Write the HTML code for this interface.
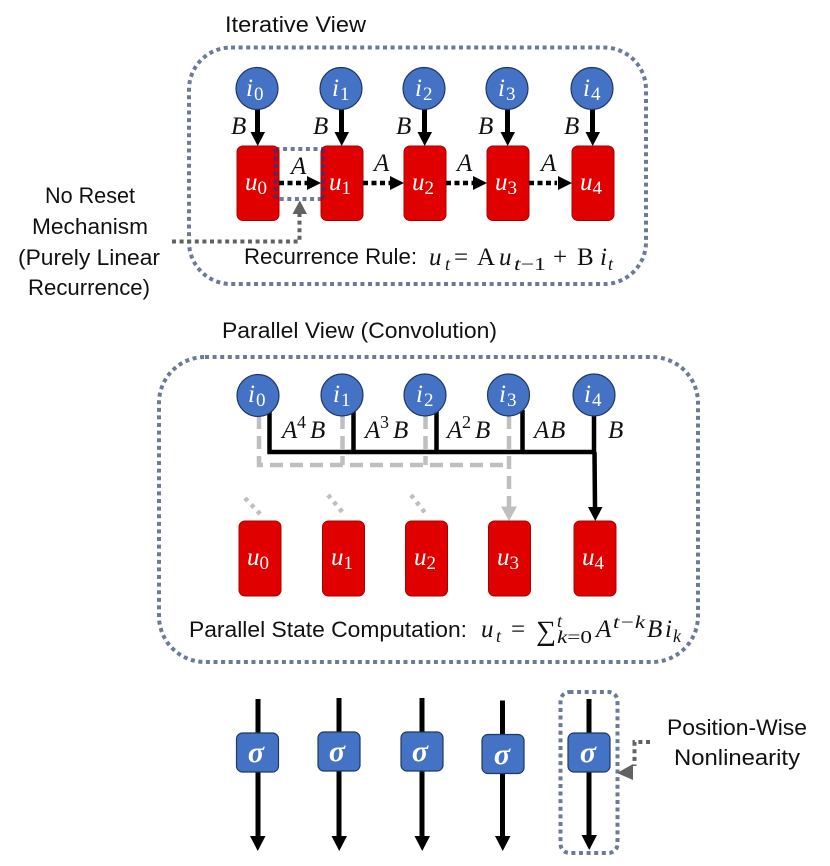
<!DOCTYPE html>
<html><head><meta charset="utf-8">
<style>
html,body{margin:0;padding:0;background:#fff}
svg{display:block}
.s{font-family:"Liberation Sans",sans-serif;font-size:22px;fill:#111}
.m{font-family:"Liberation Serif",serif;font-style:italic;font-size:25px;fill:#111}
.mr{font-family:"Liberation Serif",serif;font-size:25px;fill:#111}
.sb{font-family:"Liberation Serif",serif;font-style:italic;font-size:18px;fill:#111}
.sb tspan{font-style:normal}
.w{font-family:"Liberation Serif",serif;font-style:italic;font-size:25px;fill:#fff}
.w tspan.b{font-size:19px;font-style:normal}
.sig{font-family:"Liberation Serif",serif;font-style:italic;font-weight:bold;font-size:30px;fill:#fff;text-anchor:middle}
.c{fill:#4472c4;stroke:#1f3864;stroke-width:1.2}
.r{fill:#e00000;stroke:#a80000;stroke-width:1}
.d{fill:none;stroke:#6b7a96;stroke-width:4;stroke-dasharray:4 3.6}
</style></head><body>
<svg width="830" height="866" viewBox="0 0 830 866" xmlns="http://www.w3.org/2000/svg">
<text class="s" x="225" y="32" textLength="141" lengthAdjust="spacingAndGlyphs">Iterative View</text>
<rect class="d" x="189" y="47.5" width="457" height="236.5" rx="42"/>
<rect class="d" x="275.500" y="149" width="47.500" height="50"/>

<!-- top arrows B -->
<g fill="#000" stroke="none">
<rect x="255" y="109" width="5" height="24"/><path d="M250.500 132h14.500l-7.300 14z"/>
<rect x="339" y="109" width="5" height="24"/><path d="M334.500 132h14.500l-7.300 14z"/>
<rect x="422" y="109" width="5" height="24"/><path d="M417.500 132h14.500l-7.300 14z"/>
<rect x="505" y="109" width="5" height="24"/><path d="M500.500 132h14.500l-7.300 14z"/>
<rect x="590" y="109" width="5" height="24"/><path d="M585.500 132h14.500l-7.300 14z"/>
</g>

<circle class="c" cx="257" cy="88.500" r="21"/><circle class="c" cx="341" cy="88.500" r="21"/><circle class="c" cx="424" cy="88.500" r="21"/><circle class="c" cx="507" cy="88.500" r="21"/><circle class="c" cx="592" cy="88.500" r="21"/>
<text class="w" x="246" y="96">i<tspan class="b" dy="4" dx="1">0</tspan></text>
<text class="w" x="332" y="96">i<tspan class="b" dy="4" dx="1">1</tspan></text>
<text class="w" x="415" y="96">i<tspan class="b" dy="4" dx="1">2</tspan></text>
<text class="w" x="498" y="96">i<tspan class="b" dy="4" dx="1">3</tspan></text>
<text class="w" x="583" y="96">i<tspan class="b" dy="4" dx="1">4</tspan></text>
<text class="m" x="231" y="134">B</text><text class="m" x="313" y="134">B</text><text class="m" x="396" y="134">B</text><text class="m" x="478" y="134">B</text><text class="m" x="564" y="134">B</text>

<rect class="r" x="237" y="146" width="42" height="74.500" rx="6"/>
<rect class="r" x="321" y="146" width="42" height="74.500" rx="6"/>
<rect class="r" x="404" y="146" width="42" height="74.500" rx="6"/>
<rect class="r" x="487" y="146" width="42" height="74.500" rx="6"/>
<rect class="r" x="572" y="146" width="42" height="74.500" rx="6"/>
<text class="w" x="245" y="190">u<tspan class="b" dy="4">0</tspan></text>
<text class="w" x="329" y="190">u<tspan class="b" dy="4">1</tspan></text>
<text class="w" x="412" y="190">u<tspan class="b" dy="4">2</tspan></text>
<text class="w" x="495" y="190">u<tspan class="b" dy="4">3</tspan></text>
<text class="w" x="580" y="190">u<tspan class="b" dy="4">4</tspan></text>

<!-- overlay on red -->
<path d="M275.500 149v50M323 149v50" fill="none" stroke="#4a2a6a" stroke-width="4" stroke-dasharray="4 3.600" opacity=".85"/>

<!-- dotted A arrows -->
<g stroke="#000" stroke-width="4.500" stroke-dasharray="5 3.500" fill="none">
<path d="M279 183h28"/><path d="M363 183h28"/><path d="M446 183h28"/><path d="M529 183h28"/>
</g>
<g fill="#000">
<path d="M307 176v14l14-7z"/><path d="M390 176v14l14-7z"/><path d="M473 176v14l14-7z"/><path d="M558 176v14l14-7z"/>
</g>
<text class="m" x="291" y="174">A</text><text class="m" x="374" y="171">A</text><text class="m" x="457" y="171">A</text><text class="m" x="541" y="171">A</text>

<!-- No reset -->
<text class="s" x="45" y="203" textLength="90" lengthAdjust="spacingAndGlyphs">No Reset</text>
<text class="s" x="32" y="234" textLength="116" lengthAdjust="spacingAndGlyphs">Mechanism</text>
<text class="s" x="18" y="265" textLength="142" lengthAdjust="spacingAndGlyphs">(Purely Linear</text>
<text class="s" x="28" y="295" textLength="122" lengthAdjust="spacingAndGlyphs">Recurrence)</text>
<path d="M172 241.500H299.500V214" fill="none" stroke="#626262" stroke-width="4" stroke-dasharray="4 3.600"/>
<path d="M292.500 214h14.500l-7.250-13.500z" fill="#626262"/>

<text class="s" x="244" y="264" textLength="173" lengthAdjust="spacingAndGlyphs">Recurrence Rule:</text>
<text class="m" x="429" y="265">u</text><text class="sb" x="445" y="270">t</text>
<text class="mr" x="454" y="265">=</text><text class="mr" x="477" y="265">A</text>
<text class="m" x="499" y="265">u</text><text class="sb" x="514" y="270" textLength="32" lengthAdjust="spacingAndGlyphs">t<tspan>−1</tspan></text>
<text class="mr" x="553" y="265">+</text><text class="mr" x="577" y="265">B</text>
<text class="m" x="600" y="265">i</text><text class="sb" x="608" y="270">t</text>

<!-- parallel -->
<text class="s" x="222" y="338" textLength="275" lengthAdjust="spacingAndGlyphs">Parallel View (Convolution)</text>
<rect class="d" x="159" y="357" width="539" height="305" rx="46"/>

<!-- grey dashed -->
<g fill="none" stroke="#bfbfbf" stroke-width="4.500">
<path d="M259 416V465H509" stroke-dasharray="13 7"/>
<path d="M342.500 416V465" stroke-dasharray="13 7"/>
<path d="M425.500 416V465" stroke-dasharray="13 7"/>
<path d="M509 416V507" stroke-dasharray="13 7"/>
<path d="M245 498L262 516" stroke-dasharray="4 5"/>
<path d="M328 495L344 514" stroke-dasharray="4 5"/>
<path d="M411 495L426 514" stroke-dasharray="4 5"/>
</g>
<path d="M501 506.500h16l-8 14.500z" fill="#bfbfbf"/>

<!-- black -->
<g fill="none" stroke="#000" stroke-width="4.500">
<path d="M269.500 410V452H595"/>
<path d="M353.500 410V452"/><path d="M436.500 410V452"/><path d="M522.500 410V452"/>
<path d="M594 414V452"/>
<path d="M594.500 452L595 508"/>
</g>
<path d="M588 507h14.500l-7.200 14z" fill="#000"/>

<circle class="c" cx="258" cy="395.500" r="21"/><circle class="c" cx="342" cy="395" r="21"/><circle class="c" cx="425" cy="395" r="21"/><circle class="c" cx="508.500" cy="395" r="21"/><circle class="c" cx="594" cy="395" r="21"/>
<text class="w" x="248" y="402">i<tspan class="b" dy="4" dx="1">0</tspan></text>
<text class="w" x="333" y="402">i<tspan class="b" dy="4" dx="1">1</tspan></text>
<text class="w" x="416" y="402">i<tspan class="b" dy="4" dx="1">2</tspan></text>
<text class="w" x="499" y="402">i<tspan class="b" dy="4" dx="1">3</tspan></text>
<text class="w" x="584" y="402">i<tspan class="b" dy="4" dx="1">4</tspan></text>

<text class="m" x="282" y="438">A</text><text class="sb" x="297" y="428" style="font-style:normal">4</text><text class="m" x="310" y="438">B</text>
<text class="m" x="365" y="438">A</text><text class="sb" x="380" y="428" style="font-style:normal">3</text><text class="m" x="393" y="438">B</text>
<text class="m" x="447" y="438">A</text><text class="sb" x="462" y="428" style="font-style:normal">2</text><text class="m" x="475" y="438">B</text>
<text class="m" x="534" y="438">A</text><text class="m" x="550" y="438">B</text>
<text class="m" x="608" y="438">B</text>

<rect class="r" x="239" y="521" width="42" height="75" rx="6"/>
<rect class="r" x="322.500" y="521" width="42" height="75" rx="6"/>
<rect class="r" x="405.500" y="521" width="42" height="75" rx="6"/>
<rect class="r" x="488.500" y="521" width="42" height="75" rx="6"/>
<rect class="r" x="574" y="521" width="42" height="75" rx="6"/>
<text class="w" x="247" y="565">u<tspan class="b" dy="4">0</tspan></text>
<text class="w" x="331" y="565">u<tspan class="b" dy="4">1</tspan></text>
<text class="w" x="414" y="565">u<tspan class="b" dy="4">2</tspan></text>
<text class="w" x="497" y="565">u<tspan class="b" dy="4">3</tspan></text>
<text class="w" x="582" y="565">u<tspan class="b" dy="4">4</tspan></text>

<text class="s" x="189" y="637" textLength="278" lengthAdjust="spacingAndGlyphs">Parallel State Computation:</text>
<text class="m" x="481" y="637">u</text><text class="sb" x="496" y="642">t</text>
<text class="mr" x="511" y="637">=</text><text class="mr" x="536" y="640" style="font-size:28px">∑</text>
<text class="sb" x="557" y="627">t</text><text class="sb" x="557" y="643" textLength="35" lengthAdjust="spacingAndGlyphs">k<tspan>=0</tspan></text>
<text class="m" x="596" y="637">A</text><text class="sb" x="613" y="628" textLength="32" lengthAdjust="spacingAndGlyphs">t−k</text>
<text class="m" x="647" y="637">B</text><text class="m" x="665" y="637">i</text><text class="sb" x="673" y="642">k</text>

<!-- sigma -->
<g fill="#000">
<rect x="255.500" y="699" width="5" height="138"/><path d="M250 836h15.500l-7.750 15z"/>
<rect x="336.500" y="698" width="5" height="138"/><path d="M331.500 836h15.500l-7.750 15z"/>
<rect x="419.500" y="698" width="5" height="138"/><path d="M414.500 836h15.500l-7.750 15z"/>
<rect x="500" y="700.500" width="5" height="136"/><path d="M495 836h15.500l-7.750 15z"/>
<rect x="586.500" y="699" width="5" height="137"/><path d="M581.500 835h15.500l-7.750 15z"/>
</g>
<rect class="c" x="236.500" y="733" width="42" height="39" rx="6"/>
<rect class="c" x="318" y="732" width="42" height="39" rx="6"/>
<rect class="c" x="401" y="732" width="42" height="39" rx="6"/>
<rect class="c" x="482" y="734.500" width="42" height="39" rx="6"/>
<rect class="c" x="568" y="733" width="42" height="39" rx="6"/>
<text class="sig" x="256" y="762">σ</text><text class="sig" x="337" y="761">σ</text><text class="sig" x="420" y="761">σ</text><text class="sig" x="502" y="764">σ</text><text class="sig" x="588" y="762">σ</text>

<rect class="d" x="560.500" y="692" width="57" height="161" rx="9"/>
<path d="M650 742H634.500V766" fill="none" stroke="#626262" stroke-width="4" stroke-dasharray="4 3.600"/>
<path d="M617 773l16-9v16z" fill="#626262"/>
<text class="s" x="667" y="735" textLength="140" lengthAdjust="spacingAndGlyphs">Position-Wise</text>
<text class="s" x="674" y="765" textLength="126" lengthAdjust="spacingAndGlyphs">Nonlinearity</text>
</svg>
</body></html>
